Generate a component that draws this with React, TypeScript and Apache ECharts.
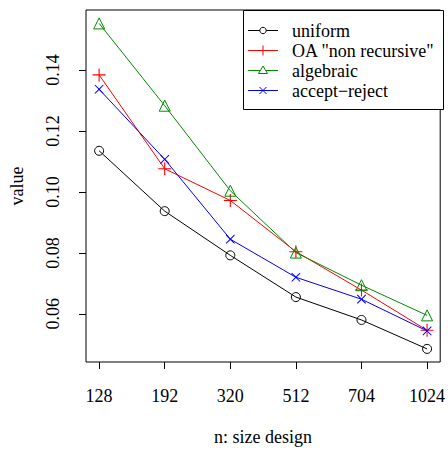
import React, { useEffect, useRef } from "react";
import * as echarts from "echarts";

const categories = ["128", "192", "320", "512", "704", "1024"];
const uniform = [0.1135, 0.0937, 0.0792, 0.0655, 0.058, 0.0485];
const oaNonRecursive = [0.1384, 0.1076, 0.0972, 0.0804, 0.0678, 0.0546];
const algebraic = [0.1553, 0.1283, 0.1004, 0.0801, 0.0694, 0.0595];
const acceptReject = [0.1337, 0.1107, 0.0845, 0.072, 0.0648, 0.0544];
const seriesNames = ["uniform", 'OA "non recursive"', "algebraic", "accept\u2212reject"];
const seriesColors = ["#000000", "#ff0000", "#008b00", "#0000ff"];
const yTicks = [0.06, 0.08, 0.1, 0.12, 0.14];

const FONT = "Liberation Serif";
const FS = 18;
const PLUS = "path://M5.5,0H6.5V5.5H12V6.5H6.5V12H5.5V6.5H0V5.5H5.5Z";

function legendMarker(i: number, cx: number, cy: number, color: string): any[] {
  const s = { stroke: color, lineWidth: 1, fill: "none" };
  if (i === 0) return [{ type: "circle", shape: { cx, cy, r: 3.2 }, style: { ...s, fill: "#fff" } }];
  if (i === 1)
    return [
      { type: "line", shape: { x1: cx - 5, y1: cy, x2: cx + 5, y2: cy }, style: s },
      { type: "line", shape: { x1: cx, y1: cy - 5, x2: cx, y2: cy + 5 }, style: s },
    ];
  if (i === 2)
    return [
      {
        type: "polygon",
        shape: { points: [[cx - 4.5, cy + 3], [cx + 4.5, cy + 3], [cx, cy - 4.5]] },
        style: { ...s, fill: "#fff" },
      },
    ];
  return [
    { type: "line", shape: { x1: cx - 3.5, y1: cy - 3.5, x2: cx + 3.5, y2: cy + 3.5 }, style: s },
    { type: "line", shape: { x1: cx - 3.5, y1: cy + 3.5, x2: cx + 3.5, y2: cy - 3.5 }, style: s },
  ];
}

export default function App() {
  const ref = useRef<HTMLDivElement>(null);
  useEffect(() => {
    const chart = echarts.init(ref.current!, null, { renderer: "svg" });
    const pts = (arr: number[]) => arr.map((v, i) => [i + 1, v]);
    const mk = (name: string, data: number[], color: string, symbol: string, size: number, hollow: boolean, extra: any = {}) => ({
      name,
      type: "line",
      data: pts(data),
      symbol,
      symbolSize: size,
      lineStyle: { color, width: 1 },
      itemStyle: hollow
        ? { color: "none", borderColor: color, borderWidth: 1 }
        : { color, borderWidth: 0 },
      ...extra,
    });

    const legendEls: any[] = [
      {
        type: "rect",
        shape: { x: 243.5, y: 10.5, width: 200, height: 99 },
        style: { fill: "#fff", stroke: "#000", lineWidth: 1 },
        z: 10,
      },
    ];
    seriesNames.forEach((name, i) => {
      const cy = 30.5 + i * 20;
      const color = seriesColors[i];
      legendEls.push({
        type: "line",
        shape: { x1: 248, y1: cy, x2: 278, y2: cy },
        style: { stroke: color, lineWidth: 1 },
        z: 11,
      });
      legendMarker(i, 263, cy, color).forEach((el) => legendEls.push({ ...el, z: 12 }));
      legendEls.push({
        type: "text",
        x: 292,
        y: cy,
        style: {
          text: name,
          fill: "#000",
          fontFamily: "Times New Roman, Liberation Serif, serif",
          fontSize: FS,
          verticalAlign: "middle",
          align: "left",
        },
        z: 12,
      });
    });

    chart.setOption({
      animation: false,
      backgroundColor: "#fff",
      textStyle: { fontFamily: FONT, fontSize: FS },
      grid: {
        left: 84,
        top: 10,
        width: 359,
        height: 359,
        show: true,
        borderColor: "#000",
        borderWidth: 1,
        backgroundColor: "transparent",
      },
      xAxis: {
        type: "value",
        min: 0.8,
        max: 6.2,
        splitLine: { show: false },
        axisLine: { show: false },
        axisTick: {
          show: true,
          inside: false,
          length: 7,
          lineStyle: { color: "#000" },
          customValues: [1, 2, 3, 4, 5, 6],
        },
        axisLabel: {
          customValues: [1, 2, 3, 4, 5, 6],
          formatter: (v: number) => categories[Math.round(v) - 1] ?? "",
          color: "#000",
          fontSize: FS,
          fontFamily: FONT,
          margin: 25,
        },
        name: "n: size design",
        nameLocation: "middle",
        nameGap: 66,
        nameTextStyle: { color: "#000", fontSize: FS, fontFamily: FONT },
      },
      yAxis: {
        type: "value",
        min: 0.0442,
        max: 0.1597,
        splitLine: { show: false },
        axisLine: { show: false },
        axisTick: {
          show: true,
          length: 7,
          lineStyle: { color: "#000" },
          customValues: yTicks,
        },
        axisLabel: {
          customValues: yTicks,
          formatter: (v: number) => v.toFixed(2),
          rotate: 90,
          color: "#000",
          fontSize: FS,
          fontFamily: FONT,
          margin: 24,
        },
        name: "value",
        nameLocation: "middle",
        nameGap: 60,
        nameRotate: 90,
        nameTextStyle: { color: "#000", fontSize: FS, fontFamily: FONT },
      },
      graphic: legendEls,
      series: [
        mk(seriesNames[0], uniform, seriesColors[0], "circle", 9, true),
        mk(seriesNames[1], oaNonRecursive, seriesColors[1], PLUS, 13, false),
        mk(seriesNames[2], algebraic, seriesColors[2], "triangle", 11, true),
        mk(seriesNames[3], acceptReject, seriesColors[3], PLUS, 12, false, { symbolRotate: 45 }),
      ],
    });
    return () => chart.dispose();
  }, []);
  return <div ref={ref} style={{ width: 448, height: 451, position: "absolute", left: 0, top: 0 }} />;
}
